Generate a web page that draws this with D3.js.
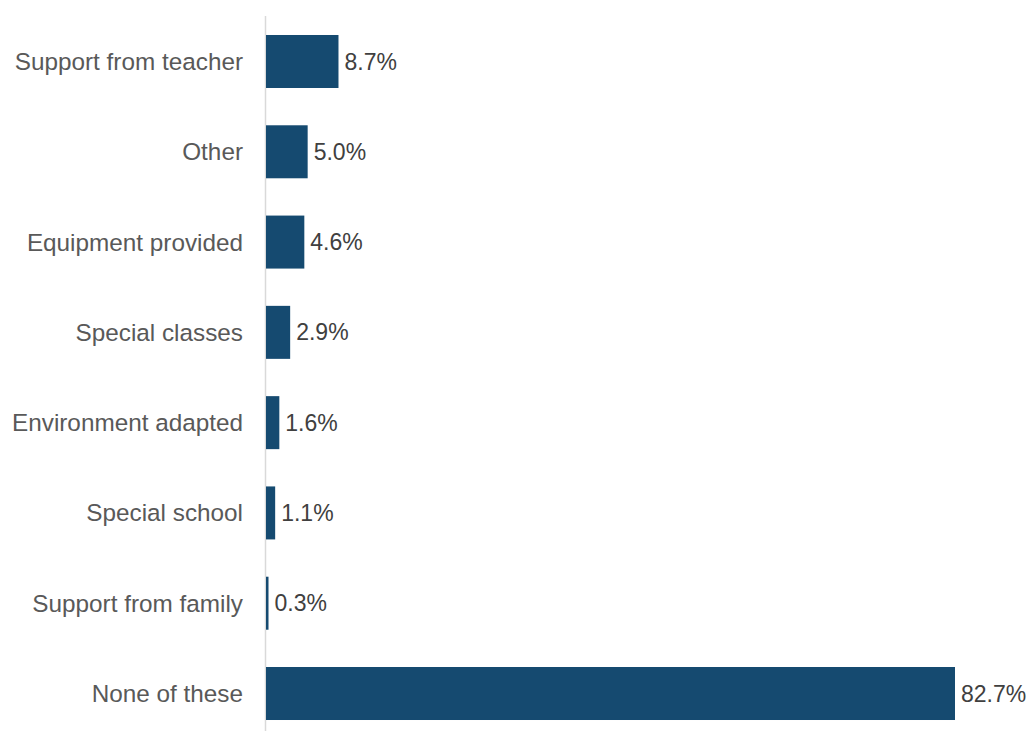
<!DOCTYPE html>
<html>
<head>
<meta charset="utf-8">
<script src="https://cdn.jsdelivr.net/npm/d3@7"></script>
<style>
  html, body { margin: 0; padding: 0; background: #fff; }
  svg { display: block; font-family: "Liberation Sans", Arial, sans-serif; }
</style>
</head>
<body>
<svg id="chart" width="1029" height="731"></svg>
<script>
// Support types reported, share of respondents (%)
const categories = [
  "Support from teacher",
  "Other",
  "Equipment provided",
  "Special classes",
  "Environment adapted",
  "Special school",
  "Support from family",
  "None of these"
];
const values = [8.7, 5.0, 4.6, 2.9, 1.6, 1.1, 0.3, 82.7];

const svg = d3.select("#chart");
const W = 1029, H = 731;
const axisX = 265.5;

const x = d3.scaleLinear().domain([0, 82.7]).range([axisX + 0.5, 955]);
const y = d3.scaleBand()
  .domain(categories)
  .range([16.35, 738.65])
  .paddingInner(0.413)
  .paddingOuter(0.2065);

// vertical baseline
svg.append("line")
  .attr("x1", axisX).attr("x2", axisX)
  .attr("y1", 16).attr("y2", H)
  .attr("stroke", "#d9d9d9").attr("stroke-width", 1.5);

const data = categories.map((c, i) => ({ c, v: values[i] }));

svg.selectAll("rect.bar").data(data).join("rect")
  .attr("class", "bar")
  .attr("x", x(0))
  .attr("y", d => y(d.c))
  .attr("width", d => x(d.v) - x(0))
  .attr("height", y.bandwidth())
  .attr("fill", "#154a70");

// category labels
svg.selectAll("text.cat").data(data).join("text")
  .attr("class", "cat")
  .attr("x", 243)
  .attr("y", d => y(d.c) + y.bandwidth() / 2)
  .attr("dy", "0.35em")
  .attr("text-anchor", "end")
  .attr("font-size", 24.3)
  .attr("fill", "#595959")
  .text(d => d.c);

// value labels
svg.selectAll("text.val").data(data).join("text")
  .attr("class", "val")
  .attr("x", d => x(d.v) + 6)
  .attr("y", d => y(d.c) + y.bandwidth() / 2)
  .attr("dy", "0.35em")
  .attr("font-size", 23)
  .attr("fill", "#404040")
  .text(d => d.v.toFixed(1) + "%");
</script>
</body>
</html>
